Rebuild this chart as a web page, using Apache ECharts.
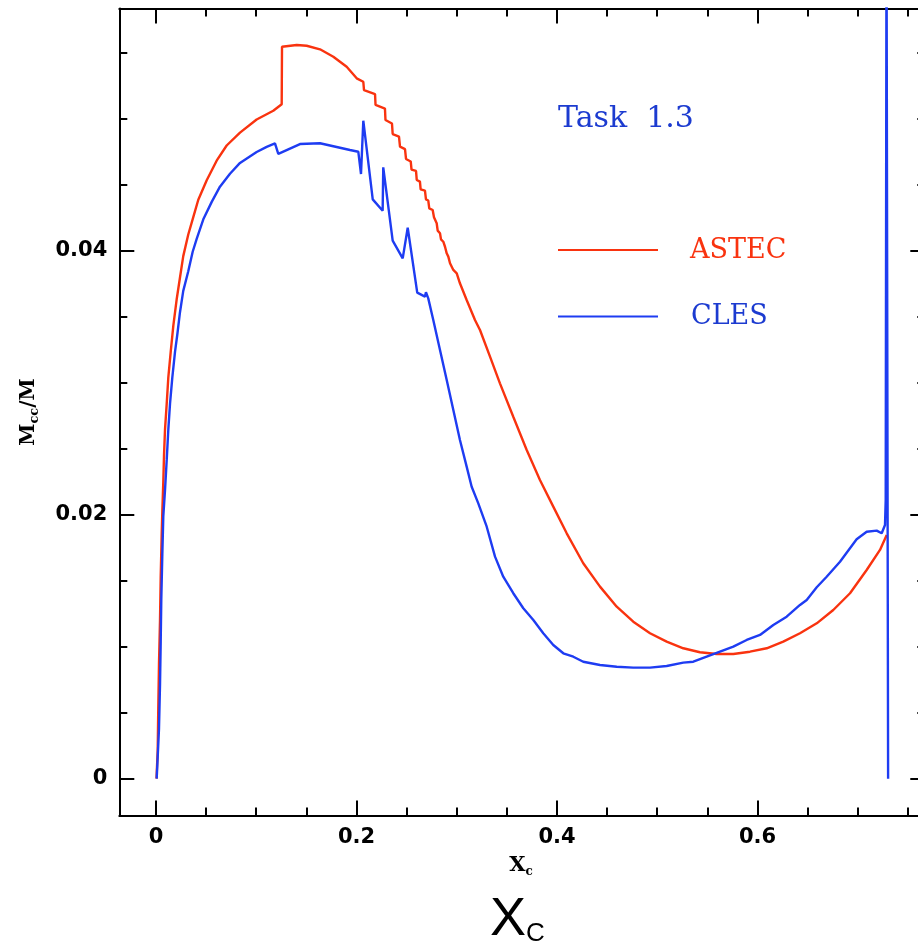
<!DOCTYPE html>
<html>
<head>
<meta charset="utf-8">
<title>Mcc/M vs Xc</title>
<script src="https://cdn.jsdelivr.net/npm/echarts@6/dist/echarts.min.js"></script>
<style>
  html, body { margin: 0; padding: 0; background: #fff; }
  #chart { width: 918px; height: 951px; }
</style>
</head>
<body>
<div id="chart"></div>
<script>
// Convective core mass fraction versus central hydrogen abundance

const astecX = [0.0005,0.0017,0.0023,0.0030,0.0040,0.0047,0.0057,0.0063,0.0073,0.0080,0.0090,0.0107,0.0123,0.0147,0.0173,0.0206,0.0239,0.0272,0.0322,0.0372,0.0422,0.0506,0.0605,0.0705,0.0838,0.1004,0.1170,0.1254,0.1257,0.1404,0.1503,0.1636,0.1769,0.1902,0.2002,0.2068,0.2075,0.2185,0.2190,0.2284,0.2289,0.2354,0.2361,0.2424,0.2434,0.2484,0.2494,0.2541,0.2549,0.2594,0.2601,0.2633,0.2640,0.2683,0.2693,0.2716,0.2726,0.2760,0.2773,0.2800,0.2810,0.2833,0.2843,0.2866,0.2883,0.2900,0.2916,0.2933,0.2966,0.3000,0.3032,0.3099,0.3182,0.3232,0.3332,0.3431,0.3564,0.3698,0.3830,0.3963,0.4097,0.4262,0.4429,0.4596,0.4761,0.4928,0.5094,0.5260,0.5426,0.5593,0.5759,0.5925,0.6092,0.6257,0.6424,0.6591,0.6756,0.6923,0.7089,0.7222,0.7289];
const astecY = [0,0.00214,0.00542,0.00871,0.01199,0.01528,0.01856,0.0202,0.02251,0.02448,0.02645,0.02842,0.0304,0.03236,0.03433,0.0363,0.03795,0.03959,0.04123,0.04255,0.04386,0.04534,0.04682,0.04797,0.04895,0.04994,0.0506,0.05109,0.05545,0.05558,0.05553,0.05526,0.0547,0.05394,0.05306,0.0528,0.05217,0.05187,0.05104,0.05077,0.0499,0.04964,0.04884,0.04865,0.04788,0.0477,0.04695,0.04676,0.04615,0.04604,0.04536,0.04523,0.04465,0.04455,0.04389,0.0438,0.04321,0.04308,0.04253,0.04208,0.04152,0.04132,0.04086,0.04068,0.0403,0.0398,0.03955,0.03905,0.03854,0.03829,0.03753,0.03627,0.03475,0.03399,0.03197,0.02995,0.02742,0.0249,0.02263,0.02061,0.01859,0.01632,0.01455,0.01303,0.01189,0.01102,0.01038,0.00988,0.00958,0.00945,0.00945,0.00962,0.00988,0.01038,0.01102,0.01177,0.01278,0.01405,0.01581,0.01733,0.01846];

const clesX = [0.0007,0.0030,0.0040,0.0047,0.0053,0.0063,0.0073,0.0090,0.0107,0.0123,0.0140,0.0163,0.0190,0.0213,0.0239,0.0272,0.0322,0.0366,0.0406,0.0472,0.0556,0.0638,0.0738,0.0838,0.1004,0.1104,0.1187,0.1220,0.1436,0.1636,0.1935,0.2018,0.2045,0.2068,0.2162,0.2261,0.2267,0.2361,0.2461,0.2511,0.2606,0.2683,0.2693,0.2716,0.2766,0.2833,0.2900,0.2966,0.3032,0.3099,0.3149,0.3215,0.3299,0.3382,0.3464,0.3564,0.3664,0.3764,0.3863,0.3963,0.4063,0.4163,0.4262,0.4429,0.4596,0.4761,0.4928,0.5094,0.5260,0.5360,0.5493,0.5626,0.5759,0.5892,0.6025,0.6158,0.6291,0.6424,0.6491,0.6591,0.6690,0.6823,0.6989,0.7089,0.7189,0.7239,0.7255,0.7272,0.7279,0.7287,0.7303];
const clesY = [0,0.00378,0.00707,0.01035,0.01364,0.01692,0.01988,0.02185,0.02415,0.02645,0.02842,0.0304,0.03236,0.03367,0.03532,0.03696,0.03844,0.03992,0.0409,0.04238,0.0437,0.04485,0.04583,0.04665,0.04748,0.04787,0.04813,0.04733,0.04808,0.04814,0.04763,0.0475,0.04581,0.04985,0.04389,0.04303,0.04632,0.04076,0.03942,0.04174,0.03682,0.03652,0.03685,0.03639,0.03475,0.03248,0.0302,0.02793,0.02566,0.02364,0.02212,0.02086,0.01909,0.01682,0.0153,0.01405,0.01291,0.01202,0.01102,0.01013,0.0095,0.00924,0.00886,0.00861,0.00848,0.00841,0.00841,0.00854,0.00879,0.00886,0.00924,0.00962,0.01,0.01051,0.01089,0.01164,0.01227,0.01316,0.01354,0.0145,0.0153,0.01644,0.01814,0.01871,0.01879,0.01859,0.01846,0.01922,0.02111,0.065,0];

// Tick positions
const xMajorTicks = [0, 0.2, 0.4, 0.6];
const xMinorTicks = [0.05, 0.1, 0.15, 0.25, 0.3, 0.35, 0.45, 0.5, 0.55, 0.65, 0.7, 0.75];
const yMajorTicks = [0, 0.02, 0.04];
const yMinorTicks = [0.005, 0.01, 0.015, 0.025, 0.03, 0.035, 0.045, 0.05, 0.055];

const seriesNames = ['ASTEC', 'CLES'];
const panelTitle = 'Task  1.3';

const X_MIN = -0.0366, X_MAX = 0.7674;
const Y_MIN = -0.00279, Y_MAX = 0.05835;

const RED = '#f9330f';
const BLUE = '#1e3cf2';
const TEXT_BLUE = '#1c3bd0';

const zip = (xs, ys) => xs.map((x, i) => [x, ys[i]]);

const tickFont = { fontFamily: 'DejaVu Sans', fontWeight: 'bold', fontSize: 21, color: '#000' };

function xAxisDef(position, ticks, len, withLabels, withLine) {
  return {
    type: 'value', position: position, min: X_MIN, max: X_MAX,
    axisLine: { show: withLine, onZero: false, lineStyle: { color: '#000', width: 2 } },
    axisTick: { show: true, inside: true, length: len, customValues: ticks, lineStyle: { color: '#000', width: 2 } },
    axisLabel: withLabels
      ? Object.assign({ show: true, customValues: ticks, margin: 12 }, tickFont)
      : { show: false },
    splitLine: { show: false }
  };
}
function yAxisDef(position, ticks, len, withLabels, withLine) {
  return {
    type: 'value', position: position, min: Y_MIN, max: Y_MAX,
    axisLine: { show: withLine, onZero: false, lineStyle: { color: '#000', width: 2 } },
    axisTick: { show: true, inside: true, length: len, customValues: ticks, lineStyle: { color: '#000', width: 2 } },
    axisLabel: withLabels
      ? Object.assign({ show: true, customValues: ticks, margin: 12 }, tickFont)
      : { show: false },
    splitLine: { show: false }
  };
}

const chart = echarts.init(document.getElementById('chart'), null, { renderer: 'canvas' });

chart.setOption({
  animation: false,
  backgroundColor: '#fff',
  grid: { left: 119.3, top: 8.5, width: 806, height: 807, containLabel: false, outerBoundsMode: 'none' },
  xAxis: [
    xAxisDef('bottom', xMajorTicks, 15, true, true),
    xAxisDef('bottom', xMinorTicks, 8, false, false),
    xAxisDef('top', xMajorTicks, 15, false, true),
    xAxisDef('top', xMinorTicks, 8, false, false)
  ],
  yAxis: [
    yAxisDef('left', yMajorTicks, 15, true, true),
    yAxisDef('left', yMinorTicks, 8, false, false),
    yAxisDef('right', yMajorTicks, 15, false, true),
    yAxisDef('right', yMinorTicks, 8, false, false)
  ],
  series: [
    {
      name: seriesNames[0], type: 'line', xAxisIndex: 0, yAxisIndex: 0,
      data: zip(astecX, astecY), showSymbol: false, clip: true,
      lineStyle: { color: RED, width: 2.4 }, itemStyle: { color: RED }
    },
    {
      name: seriesNames[1], type: 'line', xAxisIndex: 0, yAxisIndex: 0,
      data: zip(clesX, clesY), showSymbol: false, clip: true,
      lineStyle: { color: BLUE, width: 2.4 }, itemStyle: { color: BLUE }
    }
  ],
  graphic: [
    // panel title
    { type: 'text', x: 558, y: 119, style: { text: panelTitle, fill: TEXT_BLUE, font: '30px "DejaVu Serif"', textAlign: 'left', textVerticalAlign: 'middle' } },
    // key
    { type: 'line', shape: { x1: 558, y1: 250, x2: 658, y2: 250 }, style: { stroke: RED, lineWidth: 1.8 } },
    { type: 'text', x: 690, y: 251, style: { text: seriesNames[0], fill: RED, font: '27px "DejaVu Serif"', textAlign: 'left', textVerticalAlign: 'middle' } },
    { type: 'line', shape: { x1: 558, y1: 316.5, x2: 658, y2: 316.5 }, style: { stroke: BLUE, lineWidth: 1.8 } },
    { type: 'text', x: 691, y: 317, style: { text: seriesNames[1], fill: TEXT_BLUE, font: '27px "DejaVu Serif"', textAlign: 'left', textVerticalAlign: 'middle' } },
    // y axis name
    {
      type: 'text', x: 29, y: 412, rotation: Math.PI / 2,
      style: {
        text: '{m|M}{s|cc}{m|/M}', textAlign: 'center', textVerticalAlign: 'middle',
        rich: {
          m: { fontFamily: 'DejaVu Serif', fontWeight: 'bold', fontSize: 20, lineHeight: 24, fill: '#000' },
          s: { fontFamily: 'DejaVu Serif', fontWeight: 'bold', fontSize: 13, lineHeight: 12, verticalAlign: 'bottom', fill: '#000' }
        }
      }
    },
    // x axis name (small)
    {
      type: 'text', x: 521, y: 866,
      style: {
        text: '{m|X}{s|c}', textAlign: 'center', textVerticalAlign: 'middle',
        rich: {
          m: { fontFamily: 'DejaVu Serif', fontWeight: 'bold', fontSize: 21, lineHeight: 24, fill: '#000' },
          s: { fontFamily: 'DejaVu Serif', fontWeight: 'bold', fontSize: 12, lineHeight: 10, verticalAlign: 'bottom', fill: '#000' }
        }
      }
    },
    // x axis name (large)
    {
      type: 'text', x: 490, y: 920,
      style: {
        text: '{m|X}{s|C}', textAlign: 'left', textVerticalAlign: 'middle',
        rich: {
          m: { fontFamily: 'Liberation Sans', fontSize: 54, lineHeight: 54, fill: '#000' },
          s: { fontFamily: 'Liberation Sans', fontSize: 26, lineHeight: 20, verticalAlign: 'bottom', fill: '#000' }
        }
      }
    }
  ]
});
</script>
</body>
</html>
